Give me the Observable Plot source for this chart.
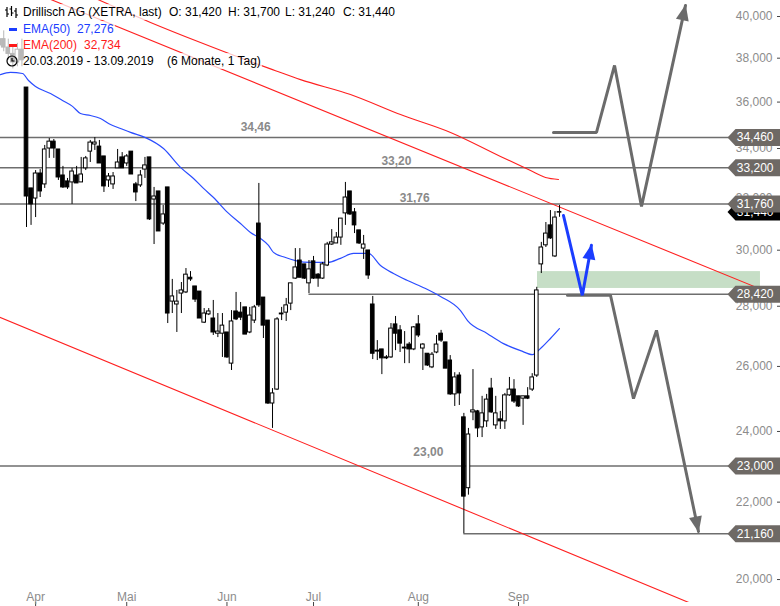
<!DOCTYPE html>
<html><head><meta charset="utf-8">
<script src="https://cdn.jsdelivr.net/npm/d3@7"></script>
<script src="https://cdn.jsdelivr.net/npm/@observablehq/plot@0.6"></script>
<style>
body{margin:0;background:#fff;font-family:"Liberation Sans",Arial,sans-serif;}
#wrap{position:relative;width:780px;height:606px;overflow:hidden;}
#legend{position:absolute;left:0;top:0;font-size:12px;color:#000;}
.row{position:absolute;left:0;height:16px;background:rgba(255,255,255,0.72);}
.row span{position:absolute;top:0;line-height:16px;white-space:pre;}
.blue{color:#1b3dff}.red{color:#ff1a1a}
</style></head><body>
<div id="wrap"><div id="chart"></div>
<div id="legend">
 <div class="row" style="top:4px;width:404px">
  <svg style="position:absolute;left:5px;top:2px" width="13" height="12"><g stroke="#000" stroke-width="1.2" fill="none"><path d="M2,1V11M0,4H2M2,8H4M6.5,0V10M4.5,3H6.5M6.5,7H8.5M11,2V12M9,5H11M11,9H13"/></g></svg>
  <span style="left:23px">Drillisch AG (XETRA, last)</span>
  <span style="left:169px">O: 31,420</span>
  <span style="left:228px">H: 31,700</span>
  <span style="left:285px">L: 31,240</span>
  <span style="left:343px">C: 31,440</span>
 </div>
 <div class="row" style="top:21px;width:115px">
  <div style="position:absolute;left:9px;top:7px;width:8px;height:3px;background:#1b3dff"></div>
  <span class="blue" style="left:23px">EMA(50)</span><span class="blue" style="left:77px">27,276</span>
 </div>
 <div class="row" style="top:37px;width:125px">
  <div style="position:absolute;left:9px;top:7px;width:8px;height:3px;background:#ff1a1a"></div>
  <span class="red" style="left:23px">EMA(200)</span><span class="red" style="left:84px">32,734</span>
 </div>
 <div class="row" style="top:53px;width:262px">
  <svg style="position:absolute;left:6px;top:2px" width="12" height="12"><circle cx="6" cy="6" r="5" stroke="#000" stroke-width="1.2" fill="none"/><path d="M6,3V6H8.5" stroke="#000" stroke-width="1.2" fill="none"/></svg>
  <span style="left:23px">20.03.2019 - 13.09.2019</span>
  <span style="left:167px">(6 Monate, 1 Tag)</span>
 </div>
</div>
</div>
<script>
// ---- data ----
const opens  = [38.60,38.90,38.50,38.20,37.80,38.40,36.65,32.37,31.97,32.97,32.53,34.00,34.29,33.96,32.89,32.65,32.61,32.89,32.61,33.18,33.87,34.17,34.08,33.67,32.69,32.53,33.18,33.63,33.38,33.87,32.53,32.49,33.13,33.63,31.93,32.25,31.00,32.41,28.16,28.06,28.44,28.48,29.00,28.69,28.51,27.44,27.72,27.58,27.07,27.07,27.11,26.09,27.82,27.78,27.96,27.11,27.51,31.00,28.30,27.51,24.84,25.27,27.75,27.78,28.09,28.97,29.62,29.48,28.80,29.59,29.11,28.97,29.44,30.21,30.25,30.47,31.39,32.25,31.43,30.74,30.06,29.99,28.06,26.51,26.55,26.29,26.29,27.38,27.18,26.61,26.71,26.55,27.38,26.58,26.41,25.97,26.45,27.07,26.78,26.19,25.12,25.71,24.42,22.38,24.57,24.60,24.12,24.30,25.30,24.18,24.36,24.30,25.09,25.27,25.06,24.99,25.06,25.27,25.71,29.48,30.18,30.93,29.77,31.42];
const highs  = [39.10,39.30,38.90,38.60,38.70,38.90,36.65,32.37,33.09,33.13,34.13,34.42,34.38,33.96,33.26,32.77,33.18,33.26,33.63,33.67,34.34,34.46,34.34,33.67,32.97,33.01,33.96,33.83,33.75,33.87,32.61,33.09,33.63,33.63,32.41,32.25,31.70,32.41,28.94,28.55,28.83,29.33,29.22,28.69,28.51,27.92,27.92,28.20,27.75,27.75,27.11,27.85,28.48,28.13,27.96,27.96,28.03,32.57,28.30,27.51,25.30,27.61,27.96,28.27,28.80,30.06,30.06,29.48,29.62,29.77,29.15,29.55,30.29,30.77,30.66,31.19,32.61,32.25,31.58,30.74,30.55,29.99,28.34,26.84,26.55,26.35,27.41,27.65,27.34,27.14,26.78,27.31,27.68,26.74,26.41,26.45,27.01,27.18,26.78,26.35,25.80,25.80,24.54,24.09,25.90,24.63,25.06,25.12,25.62,25.06,24.60,25.15,25.65,25.58,25.06,25.06,25.33,25.77,28.66,30.29,31.04,31.50,31.46,31.70];
const lows   = [38.20,38.30,37.90,37.50,37.60,37.60,30.85,30.93,31.23,32.01,32.37,33.59,33.59,32.69,32.37,32.33,31.74,32.57,32.61,33.09,33.42,33.92,33.38,32.21,32.41,32.33,33.18,33.18,33.26,32.93,31.85,32.41,32.77,31.12,30.21,30.70,30.93,27.41,27.75,27.11,27.75,28.44,28.87,28.13,27.58,27.41,27.68,27.01,26.94,26.29,26.26,25.87,27.51,27.51,27.04,27.07,27.41,27.96,26.91,24.81,24.09,25.24,27.51,27.48,27.85,28.94,29.00,28.94,28.44,28.94,28.66,28.94,29.40,30.18,30.25,30.18,30.93,31.31,30.62,30.21,29.66,28.94,26.22,26.19,25.74,26.22,26.26,26.51,26.45,26.09,26.09,26.51,26.94,25.87,26.00,25.93,26.41,26.78,25.93,25.09,24.75,24.78,21.16,22.19,24.32,23.82,23.82,24.12,24.54,24.06,24.06,24.06,25.06,24.84,24.72,24.18,24.96,25.21,25.65,29.15,30.10,30.40,29.73,31.24];
const closes = [38.90,38.50,38.20,37.80,38.40,37.90,32.05,31.74,32.97,32.25,33.96,34.29,34.00,32.81,32.41,32.41,33.05,32.57,32.93,33.59,34.25,34.25,33.38,32.45,32.85,32.85,33.42,33.18,33.67,32.93,32.21,32.89,33.30,31.16,32.05,30.70,31.35,27.75,28.34,28.16,28.55,29.11,28.94,28.23,27.58,27.75,27.82,27.11,27.14,27.34,26.29,27.48,27.55,27.61,27.04,27.68,27.96,28.03,27.34,24.84,25.15,27.55,27.72,28.03,28.80,29.37,29.00,28.97,29.30,28.97,28.97,29.48,30.21,30.29,30.47,31.19,32.01,31.35,30.93,30.25,30.21,29.08,26.41,26.48,26.26,26.26,27.24,27.07,26.74,26.58,26.55,27.28,27.01,26.71,26.03,26.38,26.71,26.84,25.93,25.12,25.65,25.15,22.15,23.91,24.63,24.09,24.54,24.96,24.57,24.54,24.30,25.09,25.27,24.90,24.75,25.06,24.99,25.65,28.55,30.10,30.62,30.44,31.23,31.44];

const monthTickIdx = [8, 28, 50, 69, 92, 114];
const monthLabels  = ["Apr", "Mai", "Jun", "Jul", "Aug", "Sep"];
const yTickValues  = [20, 22, 24, 26, 28, 30, 32, 34, 36, 38, 40];

const ema50Idx = [0.29,2.49,5.12,6.44,7.98,11.27,13.9,16.1,17.85,20.05,22.24,24.44,26.63,28.83,32.12,36.07,39.8,42.66,44.85,47.05,50.12,52.97,55.16,57.36,59.12,60.21,62.85,65.04,68.34,72.07,74.92,77.78,79.97,81.07,83.7,86.55,89.63,93.58,96.87,101.26,102.8,107.18,110.7,114.43,117.06,118.82,121.0,122.98];
const ema50Val = [37.24,37.34,37.29,36.97,36.70,36.38,36.07,35.81,35.50,35.41,35.28,35.02,34.85,34.68,34.46,34.00,33.22,32.77,32.37,32.01,31.43,31.00,30.66,30.44,30.18,29.92,29.73,29.62,29.55,29.55,29.70,29.88,29.88,29.88,29.44,29.15,28.90,28.62,28.34,27.85,27.51,27.07,26.74,26.51,26.38,26.58,26.91,27.24];
const ema200Idx = [21.14,33.22,44.19,55.16,60.65,66.14,77.11,88.09,99.07,110.04,116.63,119.92,122.77];
const ema200Val = [40.90,39.71,38.74,37.84,37.42,37.01,36.34,35.45,34.68,33.67,33.09,32.81,32.73];

const chanUpIdx = [0, 170], chanUpVal = [41.92, 28.41];
const chanLoIdx = [0, 170], chanLoVal = [27.63, 18.62];

const levelValues   = [34.46, 33.20, 31.76, 28.42, 23.00, 21.16];
const levelStartIdx = [null, null, null, 68, null, 102];
const levelLabelText = ["34,46", "33,20", "31,76", "23,00"];
const levelLabelIdx  = [56.3, 87.2, 91.2, 94.2];
const levelLabelVal  = [34.89, 33.46, 31.97, 23.41];
const lastPrice = 31.44;

const zoneIdx = [118.16, 167.1], zoneVal = [28.62, 29.22];

const arrowUpIdx = [121.67, 131.11, 135.07, 140.99, 150.65];
const arrowUpVal = [34.68, 34.68, 37.66, 31.66, 40.55];
const arrowDnIdx = [124.74, 134.18, 139.23, 144.28, 153.5];
const arrowDnVal = [28.38, 28.38, 24.99, 27.18, 21.22];
const arrowBlIdx = [123.86, 128.0, 130.0];
const arrowBlVal = [31.31, 28.38, 30.18];

// ---- build ----
const candles = opens.map((o, i) => ({i, o, h: highs[i], l: lows[i], c: closes[i]}));
const pts = (xs, ys) => xs.map((x, k) => ({x, y: ys[k]}));
const fmt3 = v => v.toFixed(3).replace(".", ",");
const W = 780, H = 606;
const xDomain = [0.293, 170.62], yDomain = [19.443, 40.796];
const margins = {marginLeft: 0, marginRight: 4, marginTop: 0, marginBottom: 4};

const sx = Plot.scale({x: {type: "linear", domain: xDomain, range: [margins.marginLeft, W - margins.marginRight]}});
const sy = Plot.scale({y: {type: "log", domain: yDomain, range: [H - margins.marginBottom, margins.marginTop]}});
function head(xs, ys, color, len, half) {
  const n = xs.length;
  const x0 = sx.apply(xs[n-2]), y0 = sy.apply(ys[n-2]), x1 = sx.apply(xs[n-1]), y1 = sy.apply(ys[n-1]);
  const ang = Math.atan2(x1 - x0, -(y1 - y0)) * 180 / Math.PI;
  return {x: xs[n-1], y: ys[n-1], ang, color, len, half};
}
const tri = (len, half) => ({draw(ctx) { ctx.moveTo(0, -1); ctx.lineTo(-half, len); ctx.lineTo(half, len); ctx.closePath(); }});
const flag = {draw(ctx) { ctx.moveTo(-49, 0); ctx.lineTo(-41, -8.5); ctx.lineTo(4, -8.5); ctx.lineTo(4, 8.5); ctx.lineTo(-41, 8.5); ctx.closePath(); }};

const heads = [
  head(arrowUpIdx, arrowUpVal, "#6b6b6b", 15, 6.5),
  head(arrowDnIdx, arrowDnVal, "#6b6b6b", 15, 6.5),
  head(arrowBlIdx, arrowBlVal, "#1b3dff", 14, 6.5)
];
const levels = levelValues.map((v, k) => ({v, from: levelStartIdx[k]}));
const bodyW = 0.4;

const chart = Plot.plot({
  width: W, height: H, ...margins,
  style: {fontFamily: "'Liberation Sans', Arial, sans-serif", fontSize: "12px", background: "transparent"},
  x: {type: "linear", domain: xDomain, axis: null},
  y: {type: "log", domain: yDomain, axis: null},
  marks: [
    Plot.rect([0], {x1: zoneIdx[0], x2: zoneIdx[1], y1: zoneVal[0], y2: zoneVal[1], fill: "#c6dec6"}),
    Plot.ruleY(levels.filter(d => d.from == null), {y: "v", stroke: "#6e6e6e", strokeWidth: 1.5}),
    Plot.ruleY(levels.filter(d => d.from != null), {y: "v", x1: "from", x2: xDomain[1], stroke: "#6e6e6e", strokeWidth: 1.5}),
    Plot.line(pts(chanUpIdx, chanUpVal), {x: "x", y: "y", stroke: "#ff2020", strokeWidth: 1.1, clip: true}),
    Plot.line(pts(chanLoIdx, chanLoVal), {x: "x", y: "y", stroke: "#ff2020", strokeWidth: 1.1, clip: true}),
    Plot.line(pts(ema200Idx, ema200Val), {x: "x", y: "y", stroke: "#ff2020", strokeWidth: 1.1, curve: "monotone-x", clip: true}),
    Plot.line(pts(ema50Idx, ema50Val), {x: "x", y: "y", stroke: "#2b4dff", strokeWidth: 1.2, curve: "monotone-x"}),
    Plot.ruleX(candles, {x: "i", y1: "l", y2: "h", stroke: "#000", strokeWidth: 1}),
    Plot.rect(candles, {x1: d => d.i - bodyW, x2: d => d.i + bodyW, y1: "o", y2: "c", fill: d => d.c >= d.o ? "#fff" : "#000", stroke: "#000", strokeWidth: 1}),
    Plot.text(levelLabelText, {x: (d, k) => levelLabelIdx[k], y: (d, k) => levelLabelVal[k], text: d => d, fill: "#8a8a8a", fontWeight: "bold", fontSize: 12}),
    Plot.line(pts(arrowUpIdx, arrowUpVal), {x: "x", y: "y", stroke: "#6b6b6b", strokeWidth: 3, strokeLinejoin: "miter"}),
    Plot.line(pts(arrowDnIdx, arrowDnVal), {x: "x", y: "y", stroke: "#6b6b6b", strokeWidth: 3, strokeLinejoin: "miter"}),
    Plot.line(pts(arrowBlIdx, arrowBlVal), {x: "x", y: "y", stroke: "#1b3dff", strokeWidth: 3, strokeLinejoin: "miter"}),
    ...heads.map(h => Plot.dot([h], {x: "x", y: "y", rotate: "ang", symbol: tri(h.len, h.half), fill: h.color, stroke: null, r: 5})),
    Plot.axisX(monthTickIdx, {anchor: "bottom", tickSize: 4, tickPadding: -6, lineAnchor: "bottom", tickFormat: d => monthLabels[monthTickIdx.indexOf(d)], fill: "#8c8c8c", stroke: "#444", label: null, fontSize: 12}),
    Plot.axisY(yTickValues, {anchor: "right", tickSize: 4, tickPadding: -8, textAnchor: "end", tickFormat: fmt3, fill: "#8c8c8c", stroke: "#444", label: null, fontSize: 12}),
    Plot.dot([lastPrice], {y: d => d, frameAnchor: "right", symbol: flag, fill: "#000", stroke: null}),
    Plot.text([lastPrice], {y: d => d, frameAnchor: "right", dx: -3, textAnchor: "end", text: fmt3, fill: "#fff", fontSize: 12}),
    Plot.dot(levelValues, {y: d => d, frameAnchor: "right", symbol: flag, fill: "#6e6965", stroke: null}),
    Plot.text(levelValues, {y: d => d, frameAnchor: "right", dx: -3, textAnchor: "end", text: fmt3, fill: "#fff", fontSize: 12})
  ]
});
document.getElementById("chart").appendChild(chart);
</script>
</body></html>
